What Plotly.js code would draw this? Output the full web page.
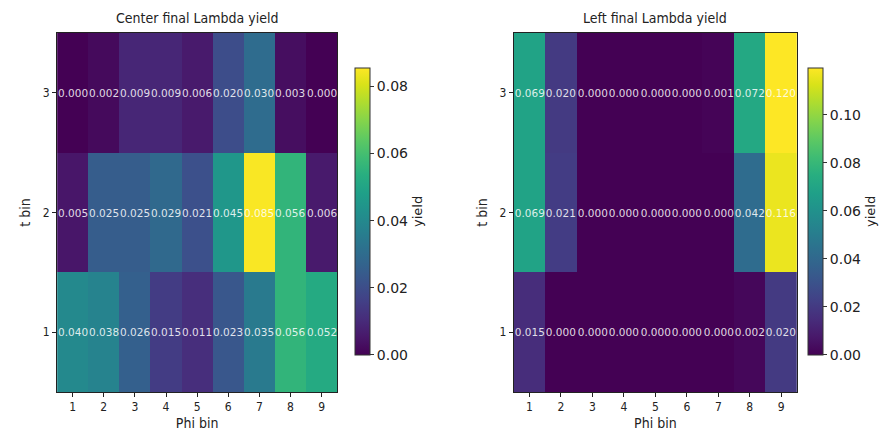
<!DOCTYPE html>
<html><head><meta charset="utf-8">
<script src="https://cdn.plot.ly/plotly-3.0.1.min.js"></script>
<style>body{margin:0;background:#fff}#c{width:892px;height:436px}</style>
</head><body><div id="c"></div>
<script>
const phiBins = [1,2,3,4,5,6,7,8,9];
const tBins = [1,2,3];
const centerT1 = [0.040,0.038,0.026,0.015,0.011,0.023,0.035,0.056,0.052];
const centerT2 = [0.005,0.025,0.025,0.029,0.021,0.045,0.085,0.056,0.006];
const centerT3 = [0.000,0.002,0.009,0.009,0.006,0.020,0.030,0.003,0.000];
const leftT1 = [0.015,0.000,0.000,0.000,0.000,0.000,0.000,0.002,0.020];
const leftT2 = [0.069,0.021,0.000,0.000,0.000,0.000,0.000,0.042,0.116];
const leftT3 = [0.069,0.020,0.000,0.000,0.000,0.000,0.001,0.072,0.120];

const F = '"DejaVu Sans Condensed", "DejaVu Sans", sans-serif';
const FT = '"DejaVu Sans", sans-serif';
const axisCommon = {showgrid:false, zeroline:false, showline:true, mirror:true, linecolor:'#222', linewidth:1,
  ticks:'outside', ticklen:4, tickcolor:'#222', tickfont:{size:12, color:'#222', family:F}};

function cb(x){
  return {x:x, xanchor:'left', xpad:0, ypad:0, y:0.503, yanchor:'middle', len:0.8, thickness:15,
    outlinewidth:1, outlinecolor:'#333', ticks:'outside', ticklen:4, tickcolor:'#333',
    tickformat:'.2f', tick0:0, dtick:0.02, tickfont:{size:14, color:'#222', family:FT},
    title:{text:'yield', side:'right', font:{size:13, color:'#222', family:FT}}};
}

const data = [
  {type:'heatmap', x:phiBins, y:tBins, z:[centerT1,centerT2,centerT3], colorscale:'Viridis',
   zmin:0, zmax:0.0855, xaxis:'x', yaxis:'y', texttemplate:'%{z:.3f}',
   textfont:{size:10.5, color:'rgba(255,255,255,0.85)', family:FT}, colorbar:cb(0.398), hoverinfo:'z'},
  {type:'heatmap', x:phiBins, y:tBins, z:[leftT1,leftT2,leftT3], colorscale:'Viridis',
   zmin:0, zmax:0.1195, xaxis:'x2', yaxis:'y2', texttemplate:'%{z:.3f}',
   textfont:{size:10.5, color:'rgba(255,255,255,0.85)', family:FT}, colorbar:cb(0.906), hoverinfo:'z'}
];

const layout = {
  width:892, height:436, margin:{l:0, r:0, t:33, b:44},
  paper_bgcolor:'#fff', plot_bgcolor:'#fff', showlegend:false,
  font:{family:F, color:'#222'},
  xaxis:Object.assign({}, axisCommon, {domain:[0.064,0.378], range:[0.5,9.5], tickvals:phiBins,
    title:{text:'Phi bin', font:{size:14, family:F}, standoff:4}}),
  yaxis:Object.assign({}, axisCommon, {range:[0.5,3.5], tickvals:tBins,
    title:{text:'t bin', font:{size:14, family:F}, standoff:8}}),
  xaxis2:Object.assign({}, axisCommon, {domain:[0.576,0.8935], range:[0.5,9.5], tickvals:phiBins, anchor:'y2',
    title:{text:'Phi bin', font:{size:14, family:F}, standoff:4}}),
  yaxis2:Object.assign({}, axisCommon, {range:[0.5,3.5], tickvals:tBins, anchor:'x2',
    title:{text:'t bin', font:{size:14, family:F}, standoff:8}}),
  annotations:[
    {text:'Center final Lambda yield', xref:'paper', yref:'paper', x:0.221, xanchor:'center', y:1, yanchor:'bottom', yshift:5,
     showarrow:false, font:{size:14, color:'#222', family:F}},
    {text:'Left final Lambda yield', xref:'paper', yref:'paper', x:0.7348, xanchor:'center', y:1, yanchor:'bottom', yshift:5,
     showarrow:false, font:{size:14, color:'#222', family:F}}
  ]
};
Plotly.newPlot('c', data, layout, {displayModeBar:false, staticPlot:true});
</script></body></html>
